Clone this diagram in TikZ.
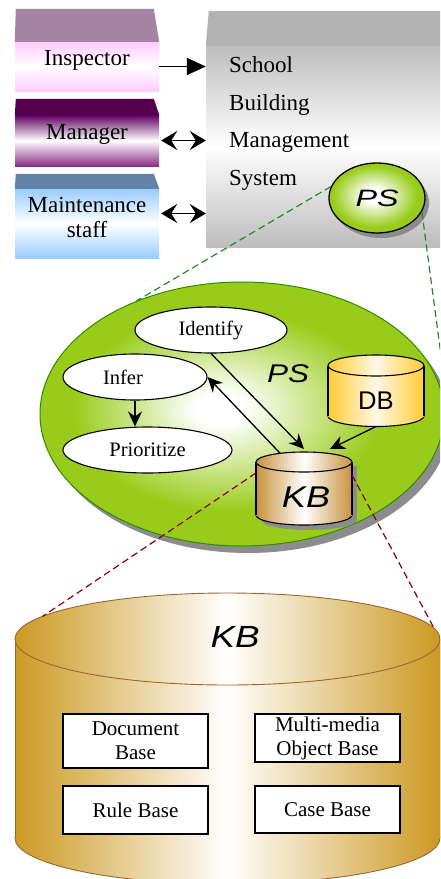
\documentclass[tikz,border=0pt]{standalone}
\usepackage{fontspec}
\setmainfont{Liberation Serif}
\newfontfamily\labelsans{Liberation Sans}
\usetikzlibrary{arrows.meta,positioning,shapes.geometric,calc}

\definecolor{inspTop}{HTML}{A483A3}
\definecolor{inspFront}{HTML}{FFCCFF}
\definecolor{mgrTop}{HTML}{55004F}
\definecolor{mgrDark}{HTML}{600060}
\definecolor{mgrLight}{HTML}{8A3088}
\definecolor{maintTop}{HTML}{6283A3}
\definecolor{maintFront}{HTML}{99CCFF}
\definecolor{sysTop}{HTML}{B2B2B2}
\definecolor{sysFront}{HTML}{BDBDBD}
\definecolor{psGreen}{HTML}{99CC1A}
\definecolor{psBorder}{HTML}{2E8B00}
\definecolor{dbYellow}{HTML}{FFCC33}
\definecolor{dbLight}{HTML}{FFF8E6}
\definecolor{kbBrown}{HTML}{C8923E}
\definecolor{kbGold}{HTML}{CC9922}
\definecolor{kbEdge}{HTML}{996633}
\definecolor{linkGreen}{HTML}{228B22}
\definecolor{linkRed}{HTML}{8B0000}

\pgfdeclareradialshading{psglow}{\pgfpoint{-3bp}{1bp}}{color(0bp)=(white); color(3bp)=(white); color(19bp)=(psGreen); color(50bp)=(psGreen)}
\pgfdeclareradialshading{psglowsmall}{\pgfpoint{-2bp}{2bp}}{color(0bp)=(white); color(5bp)=(white); color(22bp)=(psGreen); color(50bp)=(psGreen)}

\begin{document}
\begin{tikzpicture}[x=1pt, y=-1pt,
  front/.style={rectangle, minimum width=144pt, inner sep=0pt},
  caption/.style={font=\fontsize{23}{25}\selectfont, align=center, inner sep=0pt},
  oval/.style={ellipse, draw, fill=white, line width=1.1pt, inner sep=0pt, font=\fontsize{20.5}{22}\selectfont},
  glow/.style={ellipse, shade, shading=psglow, inner sep=0pt},
  shadowfill/.style={ellipse, fill=black!45, draw=none, inner sep=0pt},
  cylcap/.style={ellipse, draw, inner sep=0pt, outer sep=0pt, line width=1.1pt},
  cylbody/.style={rectangle, draw=none, inner sep=0pt, outer sep=0pt},
  dbshade/.style={left color=dbYellow, right color=dbYellow, middle color=dbLight},
  kbshade/.style={left color=kbBrown, right color=kbBrown, middle color=white},
  bigshade/.style={left color=kbGold, right color=kbGold, middle color=white},
  flow/.style={-{Stealth[length=15pt,width=14pt,inset=5pt]}, line width=1.3pt},
  bothways/.style={{Stealth[length=16pt,width=19pt,inset=6pt]}-{Stealth[length=16pt,width=19pt,inset=6pt]}, line width=1.8pt},
  zoomline/.style={dash pattern=on 7pt off 4pt, line width=1.2pt},
  basebox/.style={rectangle, draw, fill=white, line width=1.3pt, minimum width=145pt, inner sep=0pt, align=center, font=\fontsize{21}{24}\selectfont},
  sanslabel/.style={font=\labelsans\itshape\fontsize{#1}{#1}\selectfont, inner sep=0pt},
]
\useasboundingbox (0,0) rectangle (440,879);
\clip (0,0) rectangle (440,879);

% users
\node[front, minimum height=49pt, top color=inspFront, bottom color=inspFront, middle color=white,
  label={[caption, yshift=6pt]center:Inspector}] (insp) at (87,66.5) {};
\fill[inspTop] (insp.north west) -- ++(1,-33) -- ++(138,0) -- (insp.north east) -- cycle;

\node[front, minimum height=51pt, top color=mgrDark, bottom color=mgrLight, middle color=white,
  label={[caption, yshift=6pt]center:Manager}] (mgr) at (87,140.5) {};
\fill[mgrTop] (mgr.north west) -- ++(1,-16) -- ++(138,0) -- (mgr.north east) -- cycle;

\node[front, minimum height=69pt, top color=maintFront, bottom color=maintFront, middle color=white,
  label={[caption, yshift=6pt]center:Maintenance\\staff}] (maint) at (87,223.5) {};
\fill[maintTop] (maint.north west) -- ++(1,-15) -- ++(138,0) -- (maint.north east) -- cycle;

% system
\node[front, minimum width=236pt, minimum height=201pt, top color=sysFront, bottom color=sysFront, middle color=white] (sys) at (324,146.5) {};
\fill[sysTop] (sys.north west) -- ++(3,-35) -- ++(240,0) -- (sys.north east) -- cycle;
\node[caption, align=left, font=\fontsize{23}{37.4}\selectfont, anchor=west] (systxt) at (229,123.5) {School\\Building\\Management\\System};

\draw[-{Triangle[length=19pt,width=17pt]}, line width=1.6pt] (insp.east) -- (insp.east -| sys.west);
\draw[bothways] ([xshift=2pt]mgr.east) -- (mgr.east -| sys.west);
\coordinate (maintarrow) at ([xshift=2pt,yshift=10pt]maint.east);
\draw[bothways] (maintarrow) -- (maintarrow -| sys.west);

\node[shadowfill, minimum width=96pt, minimum height=70pt] (psshadow) at (381,203) {};
\node[glow, shading=psglowsmall, draw, line width=1.3pt, minimum width=96pt, minimum height=70pt, sanslabel=23.7] (ps) at (377,198) {\scalebox{1.36}[1]{PS}};

% production system
\node[shadowfill, minimum width=404pt, minimum height=264pt] (psbigshadow) at (248,421) {};
\node[glow, draw=psBorder, line width=1pt, minimum width=404pt, minimum height=264pt] (psbig) at (242,414) {};
\node[sanslabel=25.6] (pslabel) at (288,374) {\scalebox{1.23}[1]{PS}};

\coordinate (psright) at (444,378);
\draw[zoomline, linkGreen] (ps.166) -- (psbig.133);
\draw[zoomline, linkGreen] (ps.-17) -- (psright);

\node[oval, minimum width=152pt, minimum height=46pt] (identify) at (211,330) {Identify};
\node[oval, minimum width=144pt, minimum height=46pt] (infer) at (135,377) {Infer\hspace*{24pt}};
\node[oval, minimum width=169pt, minimum height=46pt] (prioritize) at (147.5,450) {Prioritize};

% DB
\node[cylcap, minimum width=96pt, minimum height=21pt, dbshade] (dbbot) at (376,416) {};
\node[cylbody, minimum width=96pt, minimum height=50.5pt, dbshade] (db) at (376,390.75) {};
\node[cylcap, minimum width=96pt, minimum height=21pt, dbshade] (dbtop) at (376,365.5) {};
\draw[line width=1.1pt] (dbtop.west) -- (dbbot.west) (dbtop.east) -- (dbbot.east);
\node[font=\labelsans\fontsize{25.6}{26}\selectfont, inner sep=0pt] (dblabel) at (376,401) {DB};

% KB
\node[shadowfill, minimum width=96pt, minimum height=20pt] (kbshadowbot) at (309,520) {};
\node[cylbody, fill=black!45, minimum width=96pt, minimum height=53pt] (kbshadowbody) at (309,492) {};
\node[cylcap, minimum width=96pt, minimum height=20pt, kbshade] (kbbot) at (304,515) {};
\node[cylbody, minimum width=96pt, minimum height=53pt, kbshade] (kb) at (304,488.5) {};
\node[cylcap, minimum width=96pt, minimum height=20pt, kbshade] (kbtop) at (304,462) {};
\draw[line width=1.1pt] (kbtop.west) -- (kbbot.west) (kbtop.east) -- (kbbot.east);
\node[sanslabel=30] (kblabel) at (306,497) {\scalebox{1.2}[1]{KB}};

\draw[flow] (identify.south) -- ([yshift=3pt]kbtop.north);
\draw[flow] (kbtop.160) -- (infer.east);
\coordinate (kbin) at ([xshift=26pt,yshift=3pt]kbtop.north);
\draw[flow] (dbbot.south) -- (kbin);
\draw[flow] (infer.south) -- (infer.south |- prioritize.north);

% knowledge base
\node[cylcap, line width=0.9pt, draw=kbEdge, minimum width=425pt, minimum height=92pt, bigshade] (kbbigbot) at (227.5,838) {};
\node[cylbody, minimum width=425pt, minimum height=199pt, bigshade] (kbbig) at (227.5,738.5) {};
\node[cylcap, line width=0.9pt, draw=kbEdge, minimum width=425pt, minimum height=92pt, bigshade] (kbbigtop) at (227.5,639) {};
\draw[line width=0.9pt, kbEdge] (kbbigtop.west) -- (kbbigbot.west) (kbbigtop.east) -- (kbbigbot.east);
\node[sanslabel=30.6] (kbbiglabel) at (235,637) {\scalebox{1.2}[1]{KB}};

\node[basebox, minimum height=54pt] (docbase) at (135.5,741) {Document\\Base};
\node[basebox, minimum height=48pt] (mmbase) at (327.5,738) {Multi-media\\Object Base};
\node[basebox, minimum height=48pt] (rulebase) at (135.5,810) {Rule Base};
\node[basebox, minimum height=47pt] (casebase) at (327.5,809.5) {Case Base};

\draw[zoomline, linkRed] ([yshift=-11pt]kb.north west) -- (kbbigtop.173);
\draw[zoomline, linkRed] ([yshift=-13pt]kb.north east) -- (kbbigtop.3);
\end{tikzpicture}
\end{document}
